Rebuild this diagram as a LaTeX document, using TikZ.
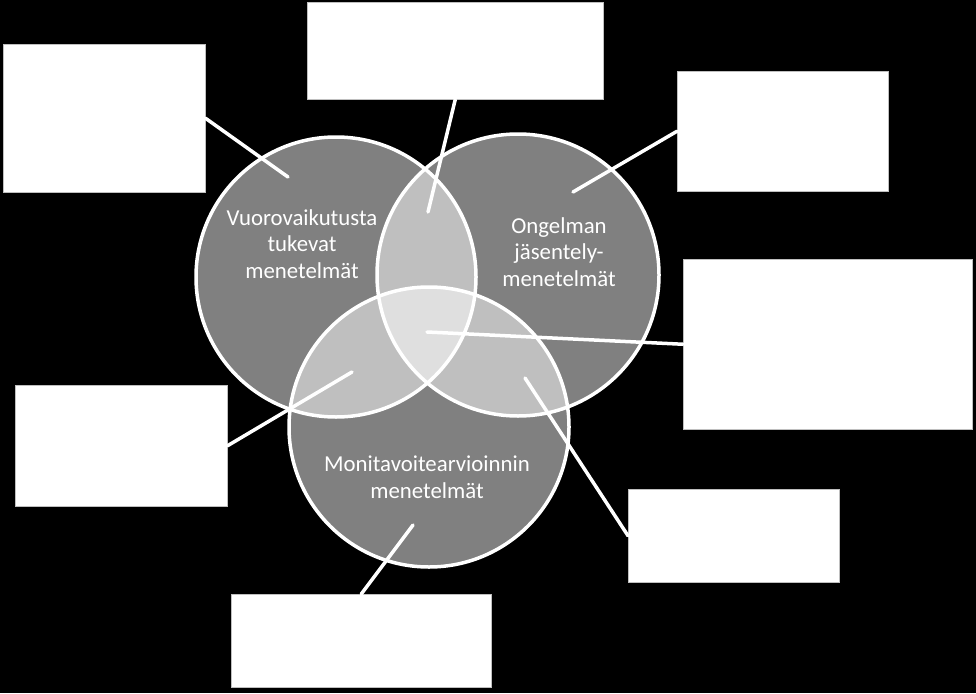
\documentclass[tikz,border=0pt]{standalone}
\usepackage{fontspec}
\setmainfont{Carlito}
\begin{document}
\begin{tikzpicture}[x=1pt,y=-1pt,
  box/.style={draw=gray!50,line width=0.5pt,fill=white,rectangle,inner sep=0pt,anchor=north west},
  ring/.style={circle,draw=white,line width=3.5pt,inner sep=0pt,minimum size=#1},
  lbl/.style={text=white,align=center,font=\fontsize{22.8}{26.5}\selectfont},
  link/.style={draw=white,line width=3.5pt,line cap=round}]
\fill[black] (0,0) rectangle (976,693);
\useasboundingbox (0,0) rectangle (976,693);
% circle fills
\fill[white,fill opacity=0.5] (336,277) circle[radius=140];
\fill[white,fill opacity=0.5] (518,275) circle[radius=141];
\fill[white,fill opacity=0.5] (429,427) circle[radius=140];
% outlines
\node[ring=280pt] (ca) at (336,277) {};
\node[ring=282pt] (cb) at (518,275) {};
\node[ring=280pt] (cc) at (429,427) {};
% labels
\node[lbl] (la) at (302,244) {Vuorovaikutusta\\tukevat\\menetelmät};
\node[lbl] (lb) at (559,252) {Ongelman\\jäsentely-\\menetelmät};
\node[lbl] (lc) at (427,477) {Monitavoitearvioinnin\\menetelmät};
% boxes
\node[box,minimum width=202pt,minimum height=148pt] (b1) at (3,44) {};
\node[box,minimum width=296pt,minimum height=97pt] (b2) at (307,2) {};
\node[box,minimum width=211pt,minimum height=120pt] (b3) at (677,71) {};
\node[box,minimum width=289pt,minimum height=170pt] (b4) at (683,259) {};
\node[box,minimum width=212pt,minimum height=121pt] (b5) at (15,385) {};
\node[box,minimum width=211pt,minimum height=93pt] (b6) at (628,489) {};
\node[box,minimum width=260pt,minimum height=93pt] (b7) at (231,594) {};
% link points
\coordinate (p1) at (288,177);
\coordinate (p2) at (428,212);
\coordinate (p3) at (573,192);
\coordinate (p4) at (427,332);
\coordinate (p5) at (352,372);
\coordinate (p6) at (525,378);
\coordinate (p7) at (413,525);
\draw[link] (p1) -- (b1.east);
\draw[link] (p2) -- (b2.south);
\draw[link] (p3) -- (b3.west);
\draw[link] (p4) -- (b4.west);
\draw[link] (p5) -- (b5.east);
\draw[link] (p6) -- (b6.west);
\draw[link] (p7) -- (b7.north);
\end{tikzpicture}
\end{document}
